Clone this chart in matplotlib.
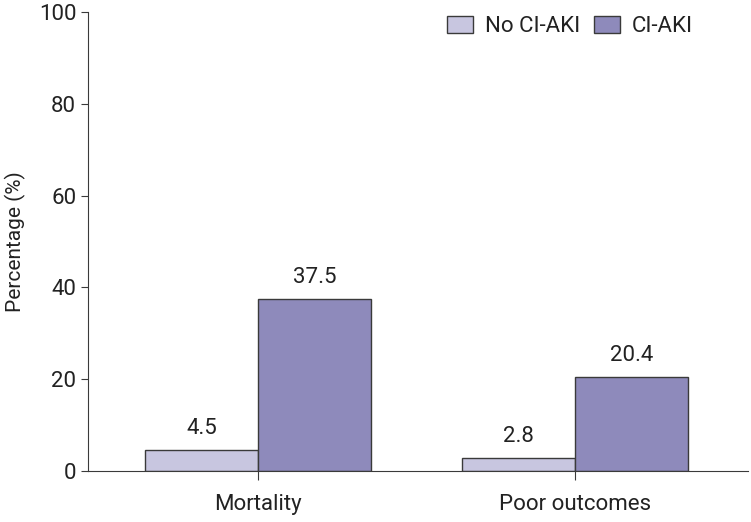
import numpy as np
import matplotlib
matplotlib.use("Agg")
from matplotlib import pyplot as plt

categories = ["Mortality", "Poor outcomes"]
no_aki = [4.5, 2.8]
ci_aki = [37.5, 20.4]
yticks = [0, 20, 40, 60, 80, 100]

plt.rcParams['font.family'] = ['Roboto', 'DejaVu Sans']
fs = 16

fig = plt.figure(figsize=(7.51, 5.22), dpi=100)
ax = fig.add_axes([0.1172, 0.0977, 0.8788, 0.8793])

x = np.arange(len(categories))
w = 0.357
b1 = ax.bar(x - w/2, no_aki, w, color='#c8c6e0', edgecolor='#3a3a3a', linewidth=1, label='No CI-AKI')
b2 = ax.bar(x + w/2, ci_aki, w, color='#8e8abb', edgecolor='#3a3a3a', linewidth=1, label='CI-AKI')

for bars, vals in [(b1, no_aki), (b2, ci_aki)]:
    for r, v in zip(bars, vals):
        ax.annotate(f"{v}", (r.get_x() + r.get_width()/2, v), xytext=(0, 8),
                    textcoords='offset points', ha='center', va='bottom', fontsize=fs,
                    color='#222222')

ax.set_xlim(-0.536, 1.546)
ax.set_ylim(0, 100)
ax.set_xticks(x)
ax.set_xticklabels(categories, fontsize=fs, color='#222222')
ax.set_yticks(yticks)
ax.set_yticklabels([str(t) for t in yticks], color='#222222')
ax.tick_params(axis='y', labelsize=fs, length=5, color='#3a3a3a')
ax.tick_params(axis='x', length=6.5, color='#3a3a3a', pad=10)
ax.set_ylabel("Percentage (%)", fontsize=15, labelpad=9, color='#222222')

for s in ['top', 'right']:
    ax.spines[s].set_visible(False)
for s in ['left', 'bottom']:
    ax.spines[s].set_color('#3a3a3a')

ax.legend(loc='upper center', ncol=2, frameon=False, fontsize=fs, handlelength=1.17,
          handleheight=0.77, handletextpad=0.55, columnspacing=0.6,
          bbox_to_anchor=(0.73, 1.035), labelcolor='#222222')

fig.savefig("out.png", dpi=100)
